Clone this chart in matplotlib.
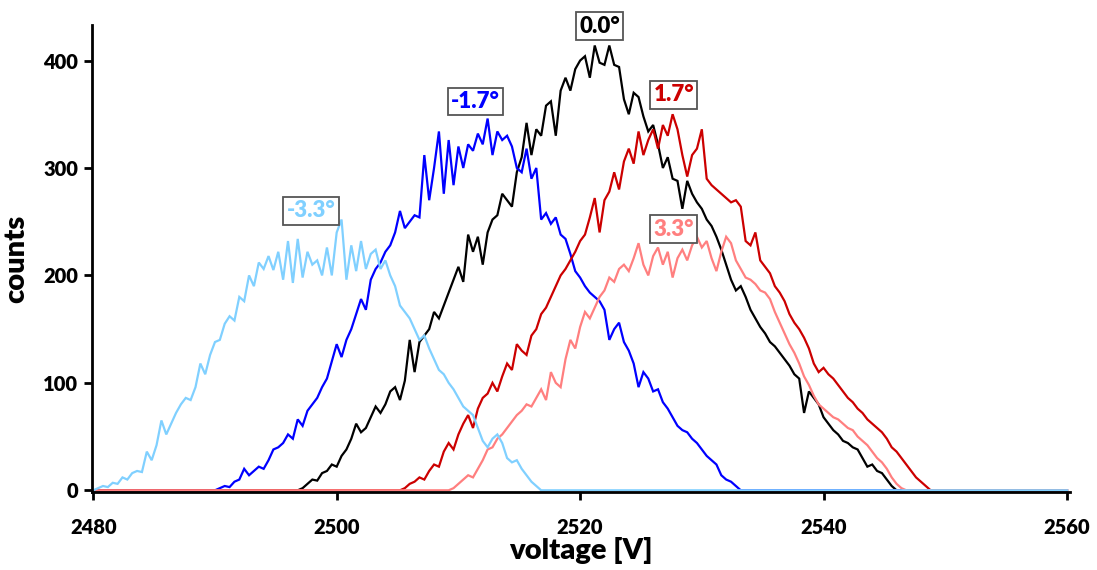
import numpy as np
import matplotlib
matplotlib.use("Agg")
import matplotlib.pyplot as plt

STEP = 0.4
X_MIN, X_MAX = 2480.0, 2560.0

labels = ["0.0°", "-1.7°", "1.7°", "3.3°", "-3.3°"]
colors = ["#000000", "#0000FF", "#CC0000", "#FF7F7F", "#80D0FF"]
starts = [2496.8, 2490.0, 2505.2, 2509.2, 2480.0]

counts_m33 = [0, 2, 4, 3, 7, 6, 12, 10, 16, 18, 17, 36, 28, 42, 65, 52, 62, 72, 80, 86,
              84, 96, 118, 108, 126, 138, 140, 155, 162, 158, 180, 176, 200, 190, 212, 206,
              218, 205, 222, 196, 232, 193, 234, 198, 222, 210, 214, 200, 226, 200, 240, 252,
              196, 228, 204, 232, 206, 220, 224, 206, 214, 200, 190, 172, 166, 160, 150, 140,
              144, 132, 122, 112, 108, 100, 94, 86, 78, 74, 70, 58, 46, 40, 48, 52, 44, 30,
              26, 28, 20, 14, 8, 4, 0]
counts_m17 = [0, 2, 4, 3, 8, 10, 20, 14, 18, 22, 20, 28, 38, 40, 44, 52, 48, 66, 60, 74,
              80, 86, 96, 104, 120, 136, 124, 140, 150, 164, 178, 168, 196, 206, 212, 222,
              228, 240, 260, 244, 250, 256, 254, 312, 270, 300, 334, 276, 326, 284, 320, 300,
              322, 316, 332, 322, 346, 312, 334, 326, 330, 320, 300, 296, 318, 290, 300, 252,
              258, 248, 254, 238, 234, 220, 204, 198, 190, 184, 180, 176, 168, 140, 150, 156,
              138, 130, 118, 96, 110, 104, 92, 94, 82, 76, 68, 60, 56, 54, 48, 44, 38, 32, 28,
              24, 14, 10, 8, 4, 0]
counts_00 = [0, 2, 6, 10, 9, 16, 18, 24, 22, 32, 38, 48, 62, 54, 58, 68, 78, 72, 80, 92,
             96, 84, 102, 140, 110, 138, 144, 150, 166, 160, 172, 184, 196, 208, 194, 238,
             222, 236, 210, 240, 252, 256, 276, 270, 264, 296, 310, 342, 312, 336, 330, 358,
             362, 330, 372, 384, 372, 392, 400, 404, 384, 414, 398, 396, 414, 396, 394, 364,
             350, 370, 366, 348, 334, 340, 322, 300, 310, 290, 288, 262, 288, 276, 268, 262,
             252, 246, 236, 224, 210, 196, 186, 190, 180, 168, 160, 152, 146, 138, 134, 128,
             122, 116, 108, 104, 72, 92, 86, 80, 68, 62, 56, 52, 46, 44, 40, 38, 30, 22, 24,
             18, 16, 10, 4, 0]
counts_p17 = [0, 2, 6, 8, 12, 10, 18, 24, 22, 36, 44, 38, 52, 62, 70, 58, 76, 86, 90, 100,
              92, 106, 118, 112, 136, 130, 126, 144, 150, 164, 170, 180, 190, 200, 206, 214,
              222, 232, 238, 254, 272, 240, 270, 278, 296, 280, 306, 318, 304, 334, 312, 326,
              336, 318, 340, 330, 350, 336, 312, 292, 312, 318, 336, 290, 284, 280, 276, 272,
              268, 270, 264, 232, 228, 240, 214, 208, 202, 190, 184, 176, 164, 156, 150, 142,
              132, 118, 110, 114, 108, 104, 98, 92, 86, 82, 76, 72, 66, 62, 58, 54, 48, 40, 36,
              30, 24, 18, 12, 8, 4, 0]
counts_p33 = [0, 2, 6, 10, 14, 12, 20, 28, 38, 40, 48, 52, 58, 64, 70, 74, 80, 78, 86, 94,
              84, 110, 100, 96, 122, 140, 132, 152, 166, 160, 170, 180, 186, 198, 194, 206,
              210, 204, 216, 230, 210, 200, 218, 226, 210, 222, 198, 216, 224, 214, 228, 236,
              226, 232, 216, 204, 222, 236, 230, 214, 206, 198, 196, 192, 186, 184, 178, 166,
              156, 146, 136, 128, 118, 106, 98, 88, 80, 76, 72, 68, 66, 62, 58, 56, 50, 46,
              42, 36, 30, 26, 20, 12, 6, 2, 0]
series = [counts_00, counts_m17, counts_p17, counts_p33, counts_m33]

label_x = [2521.6, 2511.4, 2527.7, 2527.7, 2497.9]
label_y = [432, 362, 368, 243, 260]

x_ticks = [2480, 2500, 2520, 2540, 2560]
y_ticks = [0, 100, 200, 300, 400]

FONT = ["Lato", "DejaVu Sans"]
plt.rcParams["font.family"] = FONT
W = "heavy"

fig = plt.figure(figsize=(10.97, 5.70), dpi=100)
ax = fig.add_axes([0.0839, 0.137, 0.8915, 0.819])

grid = np.round(np.arange(X_MIN, X_MAX + STEP / 2, STEP), 2)
for vals, start, col in zip(series, starts, colors):
    full = np.zeros_like(grid)
    i0 = int(round((start - X_MIN) / STEP))
    full[i0:i0 + len(vals)] = vals
    ax.plot(grid, full, color=col, lw=1.6, solid_joinstyle="miter")

for lab, lx, ly, col in zip(labels, label_x, label_y, colors):
    ax.text(lx, ly, lab, color=col, fontsize=16, fontweight=W, ha="center", va="center",
            bbox=dict(boxstyle="square,pad=0.15", fc="white", ec="#555555", lw=1.3),
            clip_on=False)

ax.set_xlim(2479.9, 2560.25)
ax.set_ylim(-1.5, 433)
ax.set_xticks(x_ticks)
ax.set_yticks(y_ticks)
ax.tick_params(direction="out", length=6, width=2, labelsize=14.5, pad=4)
for lab in ax.get_xticklabels() + ax.get_yticklabels():
    lab.set_fontweight(W)
ax.tick_params(axis="x", pad=13)
for s in ["top", "right"]:
    ax.spines[s].set_visible(False)
for s in ["left", "bottom"]:
    ax.spines[s].set_linewidth(2)
ax.set_xlabel("voltage [V]", fontsize=21, fontweight=W, labelpad=0)
ax.set_ylabel("counts", fontsize=21, fontweight=W, labelpad=10)

fig.savefig("out.png", dpi=100)
